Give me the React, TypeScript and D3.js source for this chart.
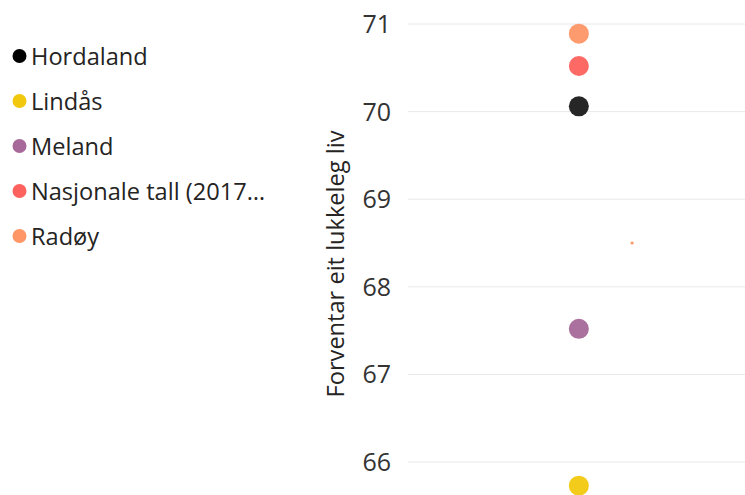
import React from "react";
import * as d3 from "d3";

const categories = ["Hordaland", "Lindås", "Meland", "Nasjonale tall (2017…", "Radøy"];
const colors = ["#1a1a1a", "#F2C80F", "#A66999", "#FD625E", "#FE9666"];
const legendColors = ["#000000", "#F2C80F", "#A66999", "#FD625E", "#FE9666"];
const values = [70.06, 65.73, 67.52, 70.52, 70.89];
const xValues = [0.507, 0.507, 0.507, 0.507, 0.507];
const extraPointX = [0.665];
const extraPointY = [68.5];
const yTicks = [66, 67, 68, 69, 70, 71];
const yTitle = "Forventar eit lukkeleg liv";

const W = 745;
const H = 495;
const FONT = "'Open Sans', 'Noto Sans', sans-serif";

export default function App() {
  const y = d3.scaleLinear().domain([66, 71]).range([462, 24]);
  const x = d3.scaleLinear().domain([0, 1]).range([408, 745]);
  const legendY = d3.scalePoint<string>().domain(categories).range([56, 236]);

  return (
    <div style={{ position: "fixed", left: 0, top: 0 }}>
      <svg width={W} height={H} style={{ display: "block", background: "#fff" }}>
        {/* legend */}
        {categories.map((c, i) => (
          <g key={c} transform={`translate(0,${legendY(c)})`}>
            <circle cx={19.5} cy={0} r={7} fill={legendColors[i]} />
            <text x={31} y={0} dy="0.36em" fontFamily={FONT} fontSize={23.6} fill="#252423">
              {c}
            </text>
          </g>
        ))}
        {/* gridlines */}
        {yTicks.map((t) => (
          <g key={t}>
            <line x1={408} x2={745} y1={y(t)} y2={y(t)} stroke="#e8e8e8" strokeWidth={1} />
            <text x={391} y={y(t)} dy="0.36em" textAnchor="end" fontFamily={FONT} fontSize={25} fill="#333">
              {t}
            </text>
          </g>
        ))}
        {/* axis title */}
        <text
          transform={`translate(335,${264}) rotate(-90)`}
          textAnchor="middle"
          dy="0.36em"
          fontFamily={FONT}
          fontSize={23.6}
          fill="#252423"
        >
          {yTitle}
        </text>
        {/* points */}
        {values.map((v, i) => (
          <circle key={i} cx={x(xValues[i])} cy={y(v)} r={10} fill={colors[i]} fillOpacity={0.95} />
        ))}
        {extraPointX.map((px, i) => (
          <circle key={"e" + i} cx={x(px)} cy={y(extraPointY[i])} r={1.6} fill="#FE9666" />
        ))}
      </svg>
    </div>
  );
}
